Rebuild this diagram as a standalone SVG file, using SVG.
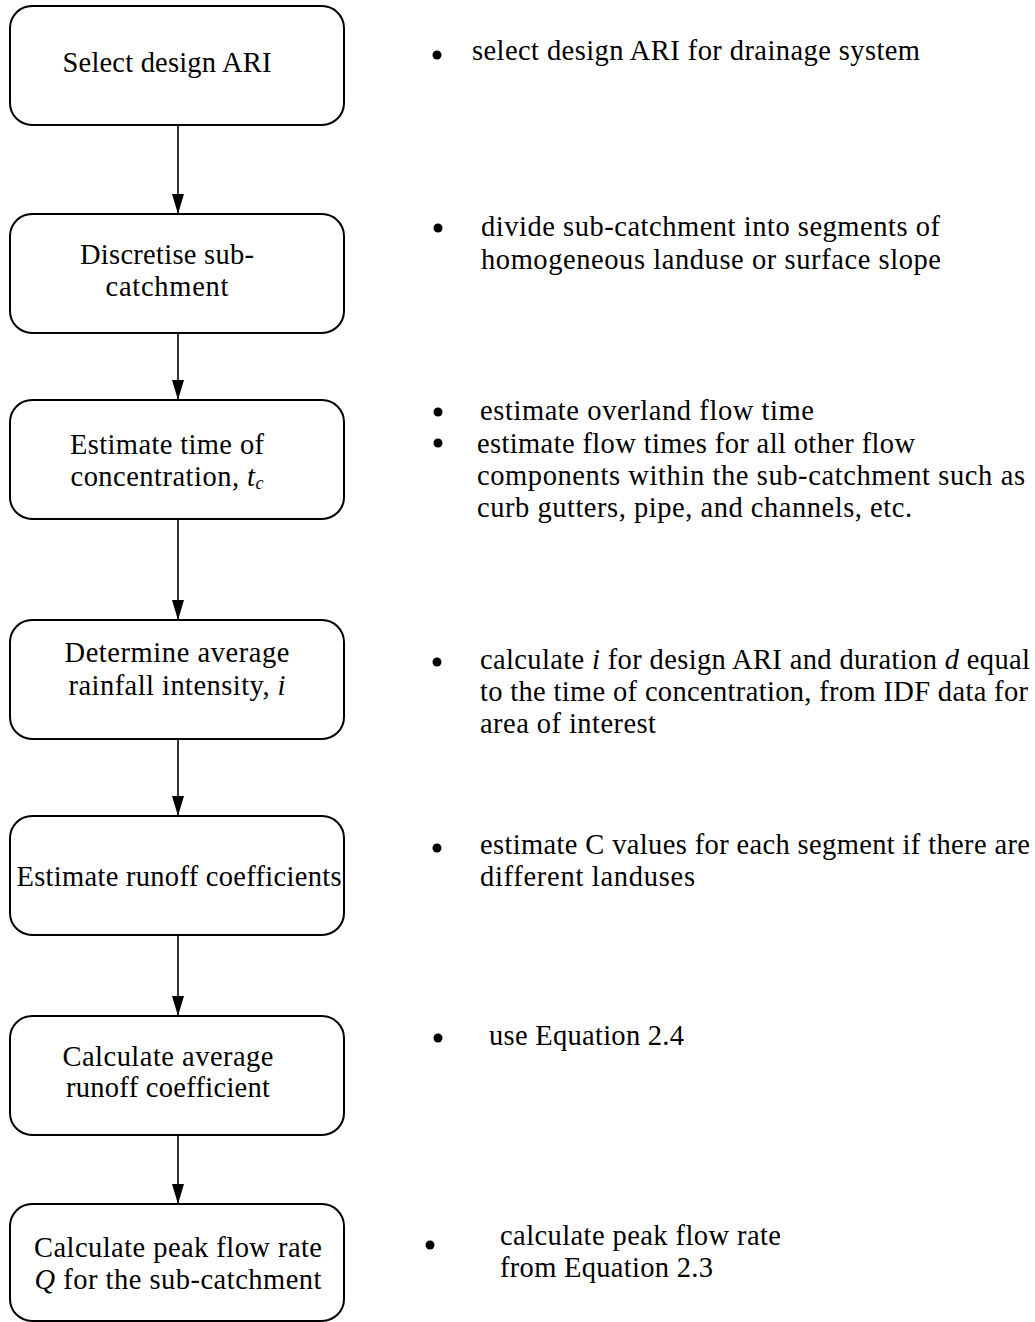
<svg xmlns="http://www.w3.org/2000/svg" width="1035" height="1322" viewBox="0 0 1035 1322">
<defs>
<style>
.box{fill:#fff;stroke:#000;stroke-width:2}
.t{font-family:"Liberation Serif","Times New Roman",serif;font-size:28.5px;fill:#000}
.c{text-anchor:middle}
.i{font-style:italic}
.conn line{stroke:#000;stroke-width:1.6}
.b{fill:#000}
</style>
<marker id="ah2" viewBox="0 0 20 12" refX="20" refY="6" markerWidth="20" markerHeight="12" markerUnits="userSpaceOnUse" orient="auto">
<path d="M0,0 L20,6 L0,12 Z" fill="#000"/>
</marker>
</defs>
<rect width="1035" height="1322" fill="#fff"/>
<g id="connectors" class="conn">
<line x1="178" y1="126" x2="178" y2="214" marker-end="url(#ah2)"/>
<line x1="178" y1="334" x2="178" y2="400" marker-end="url(#ah2)"/>
<line x1="178" y1="520" x2="178" y2="620" marker-end="url(#ah2)"/>
<line x1="178" y1="740" x2="178" y2="816" marker-end="url(#ah2)"/>
<line x1="178" y1="936" x2="178" y2="1016" marker-end="url(#ah2)"/>
<line x1="178" y1="1136" x2="178" y2="1204" marker-end="url(#ah2)"/>
</g>
<g id="n1"><rect class="box" x="10" y="6" width="334" height="119" rx="22"/>
<text class="t c" x="167" y="72" textLength="209">Select design ARI</text></g>
<g id="n2"><rect class="box" x="10" y="214" width="334" height="119" rx="22"/>
<text class="t c" x="167" y="264" textLength="174">Discretise sub-</text>
<text class="t c" x="167" y="296" textLength="123">catchment</text></g>
<g id="n3"><rect class="box" x="10" y="400" width="334" height="119" rx="22"/>
<text class="t c" x="167" y="454" textLength="194">Estimate time of</text>
<text class="t c" x="167" y="486" textLength="193">concentration, <tspan class="i">t</tspan><tspan class="i" font-size="18" dy="3">c</tspan></text></g>
<g id="n4"><rect class="box" x="10" y="620" width="334" height="119" rx="22"/>
<text class="t c" x="177" y="662" textLength="225">Determine average</text>
<text class="t c" x="177" y="695" textLength="217">rainfall intensity, <tspan class="i">i</tspan></text></g>
<g id="n5"><rect class="box" x="10" y="816" width="334" height="119" rx="22"/>
<text class="t c" x="179" y="886" textLength="325">Estimate runoff coefficients</text></g>
<g id="n6"><rect class="box" x="10" y="1016" width="334" height="119" rx="22"/>
<text class="t c" x="168" y="1066" textLength="211">Calculate average</text>
<text class="t c" x="168" y="1097" textLength="204">runoff coefficient</text></g>
<g id="n7"><rect class="box" x="10" y="1204" width="334" height="117" rx="22"/>
<text class="t c" x="178" y="1257" textLength="288">Calculate peak flow rate</text>
<text class="t c" x="178" y="1289" textLength="287"><tspan class="i">Q</tspan> for the sub-catchment</text></g>
<g id="notes">
<circle class="b" cx="437" cy="55" r="4.5"/>
<text class="t" x="472" y="60" textLength="448">select design ARI for drainage system</text>
<circle class="b" cx="438" cy="228" r="4.5"/>
<text class="t" x="481" y="236" textLength="459">divide sub-catchment into segments of</text>
<text class="t" x="481" y="269" textLength="460">homogeneous landuse or surface slope</text>
<circle class="b" cx="438" cy="412" r="4.5"/>
<text class="t" x="480" y="420" textLength="334">estimate overland flow time</text>
<circle class="b" cx="438" cy="443" r="4.5"/>
<text class="t" x="477" y="453" textLength="438">estimate flow times for all other flow</text>
<text class="t" x="477" y="485" textLength="548">components within the sub-catchment such as</text>
<text class="t" x="477" y="517" textLength="435">curb gutters, pipe, and channels, etc.</text>
<circle class="b" cx="437" cy="662" r="4.5"/>
<text class="t" x="480" y="669" textLength="550">calculate <tspan class="i">i</tspan> for design ARI and duration <tspan class="i">d</tspan> equal</text>
<text class="t" x="480" y="701" textLength="548">to the time of concentration, from IDF data for</text>
<text class="t" x="480" y="733" textLength="176">area of interest</text>
<circle class="b" cx="437" cy="848" r="4.5"/>
<text class="t" x="480" y="854" textLength="550">estimate C values for each segment if there are</text>
<text class="t" x="480" y="886" textLength="215">different landuses</text>
<circle class="b" cx="438" cy="1038" r="4.5"/>
<text class="t" x="489" y="1045" textLength="195">use Equation 2.4</text>
<circle class="b" cx="430" cy="1245" r="4.5"/>
<text class="t" x="500" y="1245" textLength="281">calculate peak flow rate</text>
<text class="t" x="500" y="1277" textLength="213">from Equation 2.3</text>
</g>
</svg>
